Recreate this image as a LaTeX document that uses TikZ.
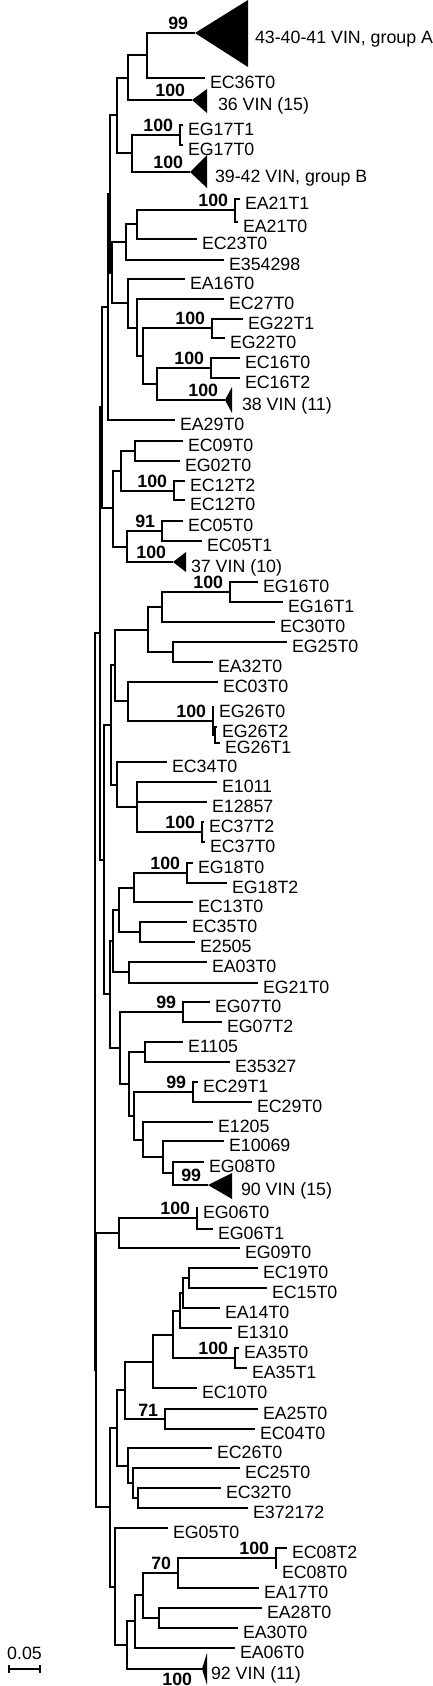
\documentclass[tikz,border=0pt]{standalone}
\usepackage{fontspec}
\setmainfont{Liberation Sans}
\newcommand{\treefont}{\fontsize{8.9}{10.5}\selectfont}
\tikzset{
  leaf/.style={anchor=west, inner xsep=2.5pt, inner ysep=0pt, outer sep=0pt,
    text height=10.4pt, text depth=0pt},
  boot/.style={anchor=south east, inner sep=0pt, xshift=-3pt, yshift=1pt,
    font=\treefont\bfseries},
  clade/.style={fill=black},
}
\begin{document}
\begin{tikzpicture}[x=0.5pt, y=-0.5pt, font=\treefont, line width=0.9pt]
\useasboundingbox (0,0) rectangle (433,1686);

% collapsed clades
\coordinate (gA) at (195,33);
\fill[clade] (gA) -- (248,0) -- (248,67) -- cycle;
\node[leaf] (gAl) at (250,33) {43-40-41 VIN, group A};
\coordinate (v36) at (192,100);
\fill[clade] (v36) -- (207,89) -- (207,113) -- cycle;
\node[leaf] (v36l) at (213,100) {36 VIN (15)};
\coordinate (gB) at (190,172);
\fill[clade] (gB) -- (207,155) -- (207,188) -- cycle;
\node[leaf] (gBl) at (210,172) {39-42 VIN, group B};
\coordinate (v38) at (225,400);
\fill[clade] (v38) -- (232,387) -- (232,413) -- cycle;
\node[leaf] (v38l) at (237,400) {38 VIN (11)};
\coordinate (v37) at (173,562);
\fill[clade] (v37) -- (186,552) -- (186,572) -- cycle;
\node[leaf] (v37l) at (186,562) {37 VIN (10)};
\coordinate (v90) at (208,1185);
\fill[clade] (v90) -- (232,1173) -- (232,1199) -- cycle;
\node[leaf] (v90l) at (236,1185) {90 VIN (15)};
\coordinate (v92) at (202,1669);
\fill[clade] (v92) -- (207,1653) -- (207,1685) -- cycle;
\node[leaf] (v92l) at (206,1669) {92 VIN (11)};

% upper part
\coordinate (n147) at (147,55);
\node[leaf] (ec36t0) at (205,78) {EC36T0};
\coordinate (n128a) at (128,78);
\coordinate (n117a) at (117,115);
\coordinate (n132) at (132,153);
\coordinate (n180a) at (180,135);
\node[leaf] (eg17t1) at (183,125) {EG17T1};
\node[leaf] (eg17t0) at (183,145) {EG17T0};
\coordinate (nC) at (110,194);
\coordinate (nD) at (112,273);
\coordinate (n126) at (126,242);
\coordinate (n137a) at (137,224);
\coordinate (n235a) at (235,210);
\node[leaf] (ea21t1) at (240,199) {EA21T1};
\node[leaf] (ea21t0) at (238,222) {EA21T0};
\node[leaf] (ec23t0) at (197,239) {EC23T0};
\node[leaf] (e354298) at (224,260) {E354298};
\coordinate (n128b) at (128,303);
\node[leaf] (ea16t0) at (185,279) {EA16T0};
\coordinate (n137b) at (137,328);
\node[leaf] (ec27t0) at (224,299) {EC27T0};
\coordinate (n143a) at (143,356);
\coordinate (n212) at (212,328);
\node[leaf] (eg22t1) at (243,319) {EG22T1};
\node[leaf] (eg22t0) at (225,338) {EG22T0};
\coordinate (n157) at (157,384);
\coordinate (n211) at (211,368);
\node[leaf] (ec16t0) at (240,358) {EC16T0};
\node[leaf] (ec16t2) at (240,378) {EC16T2};
\coordinate (nA) at (108,307);
\node[leaf] (ea29t0) at (175,420) {EA29T0};
\coordinate (nE) at (102,407);
\coordinate (n113a) at (113,508);
\coordinate (n121) at (121,471);
\coordinate (n135a) at (135,451);
\node[leaf] (ec09t0) at (183,441) {EC09T0};
\node[leaf] (eg02t0) at (180,461) {EG02T0};
\coordinate (n174) at (174,491);
\node[leaf] (ec12t2) at (185,481) {EC12T2};
\node[leaf] (ec12t0) at (185,500) {EC12T0};
\coordinate (n127a) at (127,547);
\coordinate (n162a) at (162,531);
\node[leaf] (ec05t0) at (183,521) {EC05T0};
\node[leaf] (ec05t1) at (202,541) {EC05T1};

% middle part
\coordinate (nF) at (100,633);
\coordinate (nI) at (104,860);
\coordinate (nH) at (111,725);
\coordinate (nG) at (115,665);
\coordinate (n148) at (148,630);
\coordinate (n162b) at (162,607);
\coordinate (n230) at (230,592);
\node[leaf] (eg16t0) at (258,582) {EG16T0};
\node[leaf] (eg16t1) at (283,602) {EG16T1};
\node[leaf] (ec30t0) at (275,622) {EC30T0};
\coordinate (n173a) at (173,652);
\node[leaf] (eg25t0) at (287,642) {EG25T0};
\node[leaf] (ea32t0) at (213,662) {EA32T0};
\coordinate (n128c) at (128,701);
\node[leaf] (ec03t0) at (218,682) {EC03T0};
\coordinate (n213) at (213,721);
\node[leaf] (eg26t0) at (214,707) {EG26T0};
\coordinate (n215) at (215,735);
\node[leaf] (eg26t2) at (217,727) {EG26T2};
\node[leaf] (eg26t1) at (220,743) {EG26T1};
\coordinate (n117b) at (117,785);
\node[leaf] (ec34t0) at (167,762) {EC34T0};
\coordinate (n137c) at (137,807);
\node[leaf] (e1011) at (217,782) {E1011};
\node[leaf] (e12857) at (207,802) {E12857};
\coordinate (n202) at (202,832);
\node[leaf] (ec37t2) at (204,822) {EC37T2};
\node[leaf] (ec37t0) at (205,842) {EC37T0};
\coordinate (nJ) at (110,994);
\coordinate (n113b) at (113,941);
\coordinate (n119a) at (119,910);
\coordinate (n134a) at (134,888);
\coordinate (n187) at (187,873);
\node[leaf] (eg18t0) at (193,863) {EG18T0};
\node[leaf] (eg18t2) at (227,883) {EG18T2};
\node[leaf] (ec13t0) at (193,902) {EC13T0};
\coordinate (n140) at (140,932);
\node[leaf] (ec35t0) at (187,922) {EC35T0};
\node[leaf] (e2505) at (195,942) {E2505};
\coordinate (n129a) at (129,972);
\node[leaf] (ea03t0) at (207,962) {EA03T0};
\node[leaf] (eg21t0) at (258,983) {EG21T0};
\coordinate (n120) at (120,1048);
\coordinate (n183a) at (183,1012);
\node[leaf] (eg07t0) at (210,1002) {EG07T0};
\node[leaf] (eg07t2) at (222,1022) {EG07T2};
\coordinate (n129b) at (129,1084);
\coordinate (n145) at (145,1052);
\node[leaf] (e1105) at (183,1042) {E1105};
\node[leaf] (e35327) at (230,1062) {E35327};
\coordinate (n134b) at (134,1116);
\coordinate (n193) at (193,1092);
\node[leaf] (ec29t1) at (198,1082) {EC29T1};
\node[leaf] (ec29t0) at (252,1102) {EC29T0};
\coordinate (n143b) at (143,1140);
\node[leaf] (e1205) at (213,1122) {E1205};
\coordinate (n163) at (163,1157);
\node[leaf] (e10069) at (224,1141) {E10069};
\coordinate (n173b) at (173,1173);
\node[leaf] (eg08t0) at (204,1162) {EG08T0};

% lower part
\coordinate (root) at (95,1001);
\coordinate (nM) at (96,1370);
\coordinate (n119b) at (119,1233);
\coordinate (n197) at (197,1218);
\node[leaf] (eg06t0) at (198,1208) {EG06T0};
\node[leaf] (eg06t1) at (213,1229) {EG06T1};
\node[leaf] (eg09t0) at (240,1248) {EG09T0};
\coordinate (n110) at (110,1507);
\coordinate (n117c) at (117,1428);
\coordinate (n125) at (125,1390);
\coordinate (n153) at (153,1362);
\coordinate (n173c) at (173,1335);
\coordinate (n180b) at (180,1311);
\coordinate (n183b) at (183,1293);
\coordinate (n189) at (189,1278);
\node[leaf] (ec19t0) at (258,1268) {EC19T0};
\node[leaf] (ec15t0) at (267,1288) {EC15T0};
\node[leaf] (ea14t0) at (220,1308) {EA14T0};
\node[leaf] (e1310) at (232,1328) {E1310};
\coordinate (n235b) at (235,1358);
\node[leaf] (ea35t0) at (239,1348) {EA35T0};
\node[leaf] (ea35t1) at (247,1368) {EA35T1};
\node[leaf] (ec10t0) at (197,1388) {EC10T0};
\coordinate (n165) at (165,1419);
\node[leaf] (ea25t0) at (258,1409) {EA25T0};
\node[leaf] (ec04t0) at (255,1429) {EC04T0};
\coordinate (n128d) at (128,1466);
\node[leaf] (ec26t0) at (212,1448) {EC26T0};
\coordinate (n133) at (133,1483);
\node[leaf] (ec25t0) at (240,1468) {EC25T0};
\coordinate (n138) at (138,1498);
\node[leaf] (ec32t0) at (221,1488) {EC32T0};
\node[leaf] (e372172) at (248,1508) {E372172};
\coordinate (n115) at (115,1587);
\node[leaf] (eg05t0) at (168,1528) {EG05T0};
\coordinate (n127b) at (127,1645);
\coordinate (n135b) at (135,1621);
\coordinate (n143c) at (143,1595);
\coordinate (n178) at (178,1573);
\coordinate (n276) at (276,1558);
\node[leaf] (ec08t2) at (287,1548) {EC08T2};
\node[leaf] (ec08t0) at (277,1568) {EC08T0};
\node[leaf] (ea17t0) at (259,1588) {EA17T0};
\coordinate (n159) at (159,1618);
\node[leaf] (ea28t0) at (262,1608) {EA28T0};
\node[leaf] (ea30t0) at (238,1628) {EA30T0};
\node[leaf] (ea06t0) at (235,1648) {EA06T0};

% branches
\draw (n147) |- (gA); \draw (n147) |- (ec36t0.west);
\draw (n128a) |- (n147); \draw (n128a) |- (v36);
\draw (n117a) |- (n128a); \draw (n117a) |- (n132);
\draw (n132) |- (n180a); \draw (n132) |- (gB);
\draw (n180a) |- (eg17t1.west); \draw (n180a) |- (eg17t0.west);
\draw (nC) |- (n117a); \draw (nC) |- (nD);
\draw (nD) |- (n126); \draw (nD) |- (n128b);
\draw (n126) |- (n137a); \draw (n126) |- (e354298.west);
\draw (n137a) |- (n235a); \draw (n137a) |- (ec23t0.west);
\draw (n235a) |- (ea21t1.west); \draw (n235a) |- (ea21t0.west);
\draw (n128b) |- (ea16t0.west); \draw (n128b) |- (n137b);
\draw (n137b) |- (ec27t0.west); \draw (n137b) |- (n143a);
\draw (n143a) |- (n212); \draw (n143a) |- (n157);
\draw (n212) |- (eg22t1.west); \draw (n212) |- (eg22t0.west);
\draw (n157) |- (n211); \draw (n157) |- (v38);
\draw (n211) |- (ec16t0.west); \draw (n211) |- (ec16t2.west);
\draw (nA) |- (nC); \draw (nA) |- (ea29t0.west);
\draw (nE) |- (nA); \draw (nE) |- (n113a);
\draw (n113a) |- (n121); \draw (n113a) |- (n127a);
\draw (n121) |- (n135a); \draw (n121) |- (n174);
\draw (n135a) |- (ec09t0.west); \draw (n135a) |- (eg02t0.west);
\draw (n174) |- (ec12t2.west); \draw (n174) |- (ec12t0.west);
\draw (n127a) |- (n162a); \draw (n127a) |- (v37);
\draw (n162a) |- (ec05t0.west); \draw (n162a) |- (ec05t1.west);
\draw (nF) |- (nE); \draw (nF) |- (nI);
\draw (nI) |- (nH); \draw (nI) |- (nJ);
\draw (nH) |- (nG); \draw (nH) |- (n117b);
\draw (nG) |- (n148); \draw (nG) |- (n128c);
\draw (n148) |- (n162b); \draw (n148) |- (n173a);
\draw (n162b) |- (n230); \draw (n162b) |- (ec30t0.west);
\draw (n230) |- (eg16t0.west); \draw (n230) |- (eg16t1.west);
\draw (n173a) |- (eg25t0.west); \draw (n173a) |- (ea32t0.west);
\draw (n128c) |- (ec03t0.west); \draw (n128c) |- (n213);
\draw (n213) |- (eg26t0.west); \draw (n213) |- (n215);
\draw (n215) |- (eg26t2.west); \draw (n215) |- (eg26t1.west);
\draw (n117b) |- (ec34t0.west); \draw (n117b) |- (n137c);
\draw (n137c) |- (e1011.west); \draw (n137c) |- (e12857.west); \draw (n137c) |- (n202);
\draw (n202) |- (ec37t2.west); \draw (n202) |- (ec37t0.west);
\draw (nJ) |- (n113b); \draw (nJ) |- (n120);
\draw (n113b) |- (n119a); \draw (n113b) |- (n129a);
\draw (n119a) |- (n134a); \draw (n119a) |- (n140);
\draw (n134a) |- (n187); \draw (n134a) |- (ec13t0.west);
\draw (n187) |- (eg18t0.west); \draw (n187) |- (eg18t2.west);
\draw (n140) |- (ec35t0.west); \draw (n140) |- (e2505.west);
\draw (n129a) |- (ea03t0.west); \draw (n129a) |- (eg21t0.west);
\draw (n120) |- (n183a); \draw (n120) |- (n129b);
\draw (n183a) |- (eg07t0.west); \draw (n183a) |- (eg07t2.west);
\draw (n129b) |- (n145); \draw (n129b) |- (n134b);
\draw (n145) |- (e1105.west); \draw (n145) |- (e35327.west);
\draw (n134b) |- (n193); \draw (n134b) |- (n143b);
\draw (n193) |- (ec29t1.west); \draw (n193) |- (ec29t0.west);
\draw (n143b) |- (e1205.west); \draw (n143b) |- (n163);
\draw (n163) |- (e10069.west); \draw (n163) |- (n173b);
\draw (n173b) |- (eg08t0.west); \draw (n173b) |- (v90);
\draw (root) |- (nF); \draw (root) |- (nM);
\draw (nM) |- (n119b); \draw (nM) |- (n110);
\draw (n119b) |- (n197); \draw (n119b) |- (eg09t0.west);
\draw (n197) |- (eg06t0.west); \draw (n197) |- (eg06t1.west);
\draw (n110) |- (n117c); \draw (n110) |- (n115);
\draw (n117c) |- (n125); \draw (n117c) |- (n128d);
\draw (n125) |- (n153); \draw (n125) |- (n165);
\draw (n153) |- (n173c); \draw (n153) |- (ec10t0.west);
\draw (n173c) |- (n180b); \draw (n173c) |- (n235b);
\draw (n180b) |- (n183b); \draw (n180b) |- (e1310.west);
\draw (n183b) |- (n189); \draw (n183b) |- (ea14t0.west);
\draw (n189) |- (ec19t0.west); \draw (n189) |- (ec15t0.west);
\draw (n235b) |- (ea35t0.west); \draw (n235b) |- (ea35t1.west);
\draw (n165) |- (ea25t0.west); \draw (n165) |- (ec04t0.west);
\draw (n128d) |- (ec26t0.west); \draw (n128d) |- (n133);
\draw (n133) |- (ec25t0.west); \draw (n133) |- (n138);
\draw (n138) |- (ec32t0.west); \draw (n138) |- (e372172.west);
\draw (n115) |- (eg05t0.west); \draw (n115) |- (n127b);
\draw (n127b) |- (n135b); \draw (n127b) |- (v92);
\draw (n135b) |- (n143c); \draw (n135b) |- (ea06t0.west);
\draw (n143c) |- (n178); \draw (n143c) |- (n159);
\draw (n178) |- (n276); \draw (n178) |- (ea17t0.west);
\draw (n276) |- (ec08t2.west); \draw (n276) |- (ec08t0.west);
\draw (n159) |- (ea28t0.west); \draw (n159) |- (ea30t0.west);

% bootstrap values
\node[boot] (bs01) at (gA) {99};
\node[boot] (bs02) at (v36) {100};
\node[boot] (bs03) at (n180a) {100};
\node[boot] (bs04) at (gB) {100};
\node[boot] (bs05) at (n235a) {100};
\node[boot] (bs06) at (n212) {100};
\node[boot] (bs07) at (n211) {100};
\node[boot] (bs08) at (v38) {100};
\node[boot] (bs09) at (n174) {100};
\node[boot] (bs10) at (n162a) {91};
\node[boot] (bs11) at (v37) {100};
\node[boot] (bs12) at (n230) {100};
\node[boot] (bs13) at (n213) {100};
\node[boot] (bs14) at (n202) {100};
\node[boot] (bs15) at (n187) {100};
\node[boot] (bs16) at (n183a) {99};
\node[boot] (bs17) at (n193) {99};
\node[boot] (bs18) at (v90) {99};
\node[boot] (bs19) at (n197) {100};
\node[boot] (bs20) at (n235b) {100};
\node[boot] (bs21) at (n165) {71};
\node[boot] (bs22) at (n276) {100};
\node[boot] (bs23) at (n178) {70};
\node[boot, anchor=north east, xshift=-1.5pt, yshift=-2.5pt] (bs24) at (v92) {100};

% scale bar
\coordinate (sbl) at (9,1669);
\coordinate (sbr) at (40,1669);
\draw (sbl) -- (sbr);
\draw (sbl) ++(0,-4) -- ++(0,8);
\draw (sbr) ++(0,-4) -- ++(0,8);
\path (sbl) -- (sbr) node[midway, above=4pt, inner sep=0pt] (sbtext) {0.05};
\end{tikzpicture}
\end{document}
